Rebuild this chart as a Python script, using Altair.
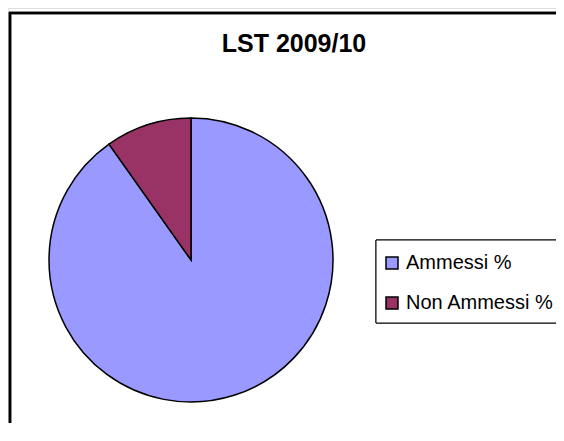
import altair as alt
import pandas as pd

categories = ["Ammessi %", "Non Ammessi %"]
values = [90.2, 9.8]
colors = ["#9999FF", "#993366"]
title_text = "LST 2009/10"

df = pd.DataFrame({"cat": categories, "val": values, "ord": list(range(len(categories)))})

W, H = 548, 415

pie = alt.Chart(df).mark_arc(stroke="black", strokeWidth=1.5, radius=142).encode(
    theta=alt.Theta("val:Q", stack=True),
    order=alt.Order("ord:Q"),
    color=alt.Color(
        "cat:N",
        scale=alt.Scale(domain=categories, range=colors),
        legend=alt.Legend(
            title=" ",
            titleFontSize=2,
            titlePadding=5,
            orient="none",
            legendX=368,
            legendY=232,
            symbolType="square",
            symbolSize=144,
            symbolStrokeColor="black",
            symbolStrokeWidth=1.5,
            labelFont="Liberation Sans",
            labelFontSize=20,
            labelColor="black",
            labelOffset=4,
            rowPadding=20,
            padding=6,
            labelLimit=300,
        ),
    ),
    x=alt.value(183),
    y=alt.value(252),
)

legend_box = alt.Chart(df).mark_rect(fill="white", stroke="black", strokeWidth=1).encode(
    x=alt.value(368), x2=alt.value(W + 20), y=alt.value(232), y2=alt.value(315)
)

frame_left = alt.Chart(df).mark_rule(color="black", strokeWidth=2.5).encode(
    x=alt.value(2), y=alt.value(4), y2=alt.value(H)
)
frame_top = alt.Chart(df).mark_rule(color="black", strokeWidth=2.5).encode(
    x=alt.value(1), x2=alt.value(W + 20), y=alt.value(5)
)

title = alt.Chart(pd.DataFrame({"t": [title_text]})).mark_text(
    font="Liberation Sans", fontWeight="bold", fontSize=25, color="black",
    align="center", baseline="alphabetic"
).encode(text="t:N", x=alt.value(286), y=alt.value(44))

chart = alt.layer(frame_left, frame_top, legend_box, pie, title).properties(
    width=W, height=H, padding=0, autosize=alt.AutoSizeParams(type="none")
).configure_view(stroke=None).configure(background="white")

chart.save("out.html", embed_options={"renderer": "svg", "actions": False})
